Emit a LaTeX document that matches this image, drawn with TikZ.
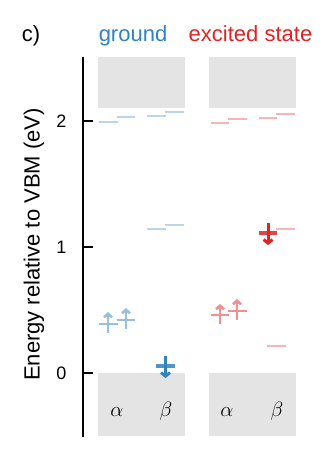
\documentclass[tikz,border=0pt]{standalone}
\usepackage{fontspec}
\setmainfont{Liberation Sans}
\usetikzlibrary{arrows.meta}
\definecolor{gblue}{RGB}{49,130,189}
\definecolor{ered}{RGB}{226,34,36}
\definecolor{panelgray}{RGB}{228,228,228}
\begin{document}
\begin{tikzpicture}[x=1pt,y=-1pt,
  panel/.style={fill=panelgray, draw=none},
  emptyB/.style={line width=2pt, draw=gblue!33},
  emptyR/.style={line width=2pt, draw=ered!33},
  occB/.style={line width=2.4pt, draw=gblue!50},
  occR/.style={line width=2.4pt, draw=ered!50},
  fullB/.style={line width=4pt, draw=gblue!85},
  fullR/.style={line width=4pt, draw=ered!85},
  spinB/.style={line width=2.6pt, draw=gblue!50, -{Straight Barb[length=3.5pt,width=8pt]}},
  spinR/.style={line width=2.6pt, draw=ered!50, -{Straight Barb[length=3.5pt,width=8pt]}},
  spinBd/.style={line width=3pt, draw=gblue, -{Straight Barb[length=3.5pt,width=9pt]}},
  spinRd/.style={line width=3pt, draw=ered, -{Straight Barb[length=3.5pt,width=9pt]}},
  big/.style={font=\fontsize{22}{26}\selectfont, inner sep=0pt},
  ticklab/.style={font=\fontsize{18}{21}\selectfont, inner sep=0pt, anchor=east}]
\useasboundingbox (0,0) rectangle (320,460);

% panels
\fill[panel] (98,57) rectangle (185,108);
\fill[panel] (209,57) rectangle (296,108);
\fill[panel] (98,373) rectangle (185,436);
\fill[panel] (209,373) rectangle (296,436);

% axis
\draw[line width=2pt] (83,57) -- (83,437);
\foreach \yy/\lab [count=\i] in {121/2,247/1,373/0}{
  \draw[line width=1.5pt] (83,\yy) -- (93,\yy);
  \node[ticklab] (tick\i) at (66.5,\yy) {\lab};
}
\node[big, rotate=90, anchor=base] (ylab) at (39.5,244.5) {Energy relative to VBM (eV)};

% titles
\node[big, anchor=base] (panelc) at (31,41.5) {c)};
\node[big, anchor=base, text=gblue] (ground) at (133,41.5) {ground};
\node[big, anchor=base, text=ered] (excited) at (250.5,41.5) {excited state};

% spin labels
\node[big, anchor=base] (ga) at (117,416) {$\alpha$};
\node[big, anchor=base] (gb) at (166,416) {$\beta$};
\node[big, anchor=base] (ea) at (227,416) {$\alpha$};
\node[big, anchor=base] (eb) at (277,416) {$\beta$};

% ground state levels
\draw[emptyB] (99,122) -- (118,122);
\draw[emptyB] (117,117) -- (135,117);
\draw[emptyB] (147,116) -- (166,116);
\draw[emptyB] (165,112) -- (184,112);
\draw[emptyB] (147,229) -- (166,229);
\draw[emptyB] (165,225) -- (184,225);
\draw[occB] (99,324) -- (118,324);
\draw[occB] (117,320) -- (135,320);
\draw[spinB] (108,333) -- (108,312);
\draw[spinB] (126,329) -- (126,308);
\draw[fullB] (156,366) -- (175,366);
\draw[spinBd] (165.5,356) -- (165.5,378);

% excited state levels
\draw[emptyR] (211,123) -- (229,123);
\draw[emptyR] (228,119) -- (247,119);
\draw[emptyR] (259,118) -- (277,118);
\draw[emptyR] (276,114) -- (295,114);
\draw[emptyR] (276,229) -- (295,229);
\draw[emptyR] (267,346) -- (286,346);
\draw[occR] (211,315) -- (229,315);
\draw[occR] (228,311) -- (247,311);
\draw[spinR] (220,324) -- (220,304);
\draw[spinR] (237,320) -- (237,299);
\draw[fullR] (259,233) -- (277,233);
\draw[spinRd] (268,223) -- (268,245);
\end{tikzpicture}
\end{document}
